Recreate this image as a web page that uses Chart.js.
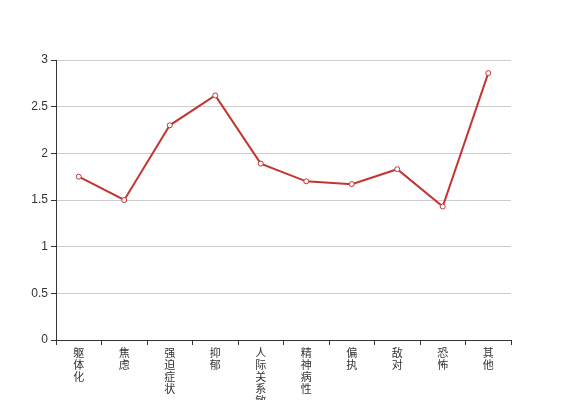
<!DOCTYPE html>
<html>
<head>
<meta charset="utf-8">
<script src="https://cdn.jsdelivr.net/npm/chart.js@4/dist/chart.umd.min.js"></script>
<style>
  html, body { margin: 0; padding: 0; background: #fff; }
  #wrap { width: 567px; height: 400px; }
</style>
</head>
<body>
<div id="wrap"><canvas id="chart" width="567" height="400"></canvas></div>
<script>
// categories (shown vertically, one char per line)
var categories = ["躯体化", "焦虑", "强迫症状", "抑郁", "人际关系敏感", "精神病性", "偏执", "敌对", "恐怖", "其他"];
var scores = [1.75, 1.5, 2.3, 2.62, 1.89, 1.7, 1.67, 1.83, 1.43, 2.86];
var yTicks = [0, 0.5, 1, 1.5, 2, 2.5, 3];

var labels = categories.map(function (c) { return c.split(""); });
var fontFamily = "'Liberation Sans', 'Noto Sans CJK SC', sans-serif";

new Chart(document.getElementById("chart").getContext("2d"), {
  type: "line",
  data: {
    labels: labels,
    datasets: [
      {
        label: "得分",
        data: scores,
        borderColor: "#c23531",
        borderWidth: 2,
        backgroundColor: "#ffffff",
        pointBackgroundColor: "#ffffff",
        pointBorderColor: "#c23531",
        pointBorderWidth: 1,
        pointRadius: 2.5,
        tension: 0,
        fill: false,
      },
    ],
  },
  options: {
    responsive: false,
    animation: false,
    maintainAspectRatio: false,
    layout: { padding: { top: 60, right: 56, left: 0, bottom: 0 } },
    plugins: {
      legend: { display: false },
      tooltip: { enabled: false },
    },
    scales: {
      x: {
        offset: true,
        grid: {
          offset: true,
          drawOnChartArea: false,
          drawTicks: true,
          tickLength: 5,
          tickColor: "#333",
        },
        border: { display: true, color: "#333", width: 1 },
        ticks: {
          color: "#333",
          autoSkip: false,
          maxRotation: 0,
          padding: 3,
          font: { family: fontFamily, size: 11, lineHeight: "12px" },
        },
        afterFit: function (scale) { scale.height = 60; },
      },
      y: {
        min: 0,
        max: 3,
        afterBuildTicks: function (scale) {
          scale.ticks = yTicks.map(function (v) { return { value: v }; });
        },
        grid: {
          color: "#cccccc",
          tickColor: "#333",
          tickLength: 5,
          drawTicks: true,
        },
        border: { display: true, color: "#333", width: 1 },
        ticks: {
          color: "#333",
          padding: 3,
          font: { family: fontFamily, size: 12 },
          callback: function (v) { return String(v); },
        },
        afterFit: function (scale) { scale.width = 56; },
      },
    },
  },
});
</script>
</body>
</html>
